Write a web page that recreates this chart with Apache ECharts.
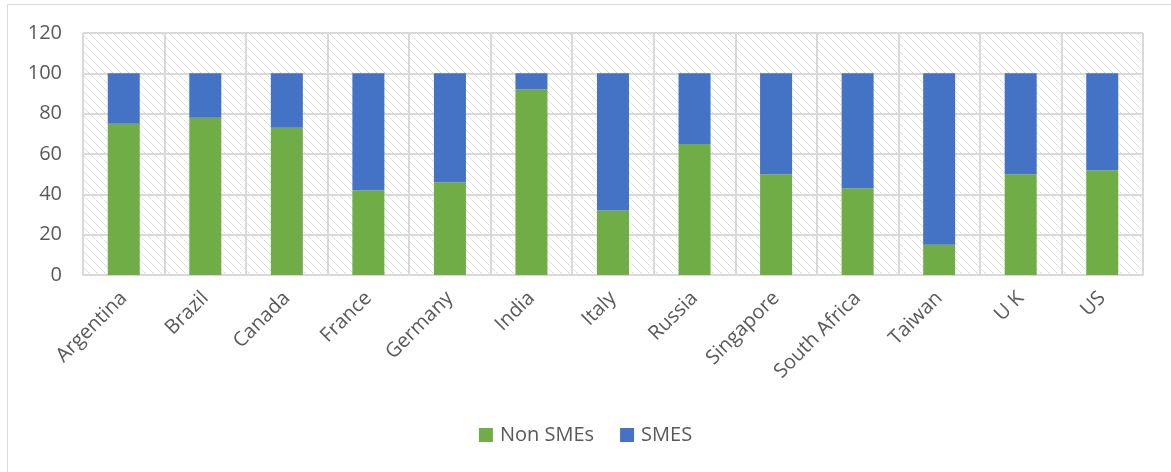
<!DOCTYPE html>
<html>
<head>
<meta charset="utf-8">
<script src="https://cdn.jsdelivr.net/npm/echarts@6/dist/echarts.min.js"></script>
<style>
  html, body { margin: 0; padding: 0; background: #ffffff; }
  #chart { width: 1171px; height: 472px; }
</style>
</head>
<body>
<div id="chart"></div>
<script>
// Share of firms by country (percent)
const countries = ['Argentina', 'Brazil', 'Canada', 'France', 'Germany', 'India', 'Italy',
  'Russia', 'Singapore', 'South Africa', 'Taiwan', 'U K', 'US'];
const nonSMEs = [75, 78, 73, 42, 46, 92, 32, 65, 50, 43, 15, 50, 52];
const smes = [25, 22, 27, 58, 54, 8, 68, 35, 50, 57, 85, 50, 48];
const yTicks = [0, 20, 40, 60, 80, 100, 120];

// Diagonal hatch fill for the plot background
function hatchPattern() {
  const n = 8;
  const c = document.createElement('canvas');
  c.width = n; c.height = n;
  const ctx = c.getContext('2d');
  ctx.fillStyle = '#ffffff';
  ctx.fillRect(0, 0, n, n);
  for (let i = 0; i < n; i++) {
    ctx.fillStyle = (i % 2 === 0) ? '#d6d6d6' : '#ebebeb';
    ctx.fillRect(i, i, 1, 1);
  }
  return c;
}

const font = "'Open Sans', 'Liberation Sans', sans-serif";
const chart = echarts.init(document.getElementById('chart'), null, { renderer: 'canvas' });
chart.setOption({
  animation: false,
  backgroundColor: '#ffffff',
  graphic: [
    { type: 'line', shape: { x1: 7.5, y1: 4.5, x2: 1171, y2: 4.5 }, style: { stroke: '#d9d9d9', lineWidth: 1 } },
    { type: 'line', shape: { x1: 7.5, y1: 4.5, x2: 7.5, y2: 472 }, style: { stroke: '#d9d9d9', lineWidth: 1 } }
  ],
  grid: {
    left: 83, right: 28, top: 33, bottom: 197,
    show: true,
    backgroundColor: { image: hatchPattern(), repeat: 'repeat' },
    borderColor: '#d9d9d9',
    borderWidth: 1
  },
  legend: {
    bottom: 22,
    left: 'center',
    itemWidth: 14,
    itemHeight: 14,
    itemGap: 26,
    icon: 'rect',
    textStyle: { color: '#595959', fontSize: 20, fontFamily: font, padding: [0, 0, 0, 2] },
    data: ['Non SMEs', 'SMES']
  },
  xAxis: {
    type: 'category',
    data: countries,
    axisLine: { show: true, lineStyle: { color: '#d9d9d9', width: 1 } },
    axisTick: { show: false },
    splitLine: { show: true, interval: 0, lineStyle: { color: '#d9d9d9', width: 2 } },
    axisLabel: {
      interval: 0,
      rotate: 45,
      margin: 20,
      color: '#595959',
      fontSize: 20,
      fontFamily: font
    }
  },
  yAxis: {
    type: 'value',
    min: yTicks[0],
    max: yTicks[yTicks.length - 1],
    interval: 20,
    axisLine: { show: false },
    axisTick: { show: false },
    splitLine: { show: true, lineStyle: { color: '#d9d9d9', width: 2 } },
    axisLabel: { color: '#595959', fontSize: 20, fontFamily: font, margin: 21 }
  },
  series: [
    {
      name: 'Non SMEs', type: 'bar', stack: 'total', data: nonSMEs,
      barWidth: 32,
      itemStyle: { color: '#70ad47' }
    },
    {
      name: 'SMES', type: 'bar', stack: 'total', data: smes,
      barWidth: 32,
      itemStyle: { color: '#4472c4' }
    }
  ]
});
</script>
</body>
</html>
